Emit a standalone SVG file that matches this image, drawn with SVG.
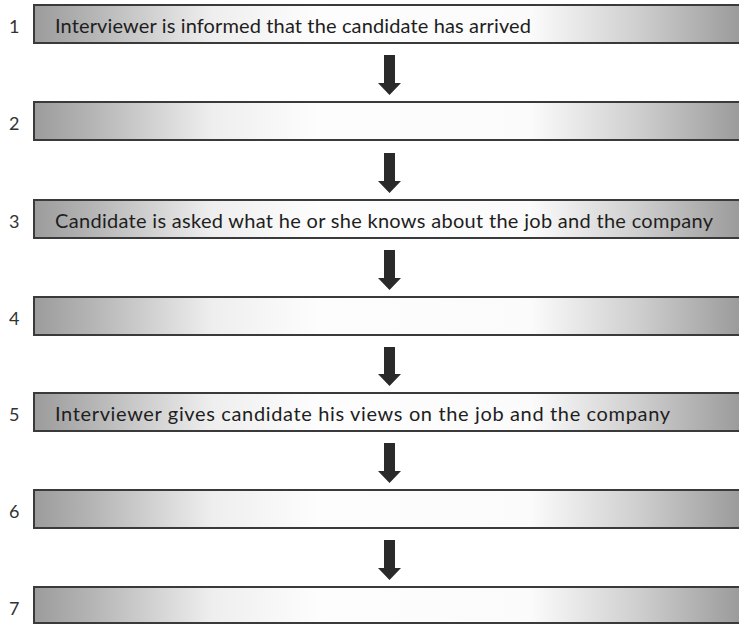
<svg xmlns="http://www.w3.org/2000/svg" width="739" height="625" viewBox="0 0 739 625">
<style>
.box{fill:url(#g);stroke:#3a3a3a;stroke-width:2}
.num{font-family:Lato,"Liberation Sans",Arial,sans-serif;font-size:18px;fill:#333}
.lbl{font-family:Lato,"Liberation Sans",Arial,sans-serif;font-size:20px;fill:#1e1e1e}
.arr{fill:#2a2a2a}
</style>
<defs>
<linearGradient id="g" x1="0" y1="0" x2="1" y2="0">
<stop offset="0" stop-color="#9c9c9c"/>
<stop offset="0.08" stop-color="#b4b4b4"/>
<stop offset="0.25" stop-color="#eeeeee"/>
<stop offset="0.4" stop-color="#fdfdfd"/>
<stop offset="0.7" stop-color="#fbfbfb"/>
<stop offset="0.85" stop-color="#cfcfcf"/>
<stop offset="1" stop-color="#999999"/>
</linearGradient>
</defs>
<rect width="739" height="625" fill="#ffffff"/>
<g id="node1"><rect class="box" x="34" y="5" width="710" height="38"/><text class="num" x="9" y="33">1</text><text class="lbl" x="55" y="32.5" textLength="476" lengthAdjust="spacing">Interviewer is informed that the candidate has arrived</text></g>
<g id="node2"><rect class="box" x="34" y="102" width="710" height="38"/><text class="num" x="9" y="130">2</text></g>
<g id="node3"><rect class="box" x="34" y="200" width="710" height="38"/><text class="num" x="9" y="228">3</text><text class="lbl" x="55" y="227.5" textLength="658" lengthAdjust="spacing">Candidate is asked what he or she knows about the job and the company</text></g>
<g id="node4"><rect class="box" x="34" y="297" width="710" height="38"/><text class="num" x="9" y="325">4</text></g>
<g id="node5"><rect class="box" x="34" y="393" width="710" height="38"/><text class="num" x="9" y="421">5</text><text class="lbl" x="55" y="420.5" textLength="615" lengthAdjust="spacing">Interviewer gives candidate his views on the job and the company</text></g>
<g id="node6"><rect class="box" x="34" y="490" width="710" height="38"/><text class="num" x="9" y="518">6</text></g>
<g id="node7"><rect class="box" x="34" y="587" width="710" height="36"/><text class="num" x="9" y="615">7</text></g>
<g id="connectors">
<path class="arr" d="M384,55 H395 V83 H401 L389.5,95 L378,83 H384 Z"/>
<path class="arr" d="M384,153 H395 V181 H401 L389.5,193 L378,181 H384 Z"/>
<path class="arr" d="M384,250 H395 V278 H401 L389.5,290 L378,278 H384 Z"/>
<path class="arr" d="M384,347 H395 V374 H401 L389.5,386 L378,374 H384 Z"/>
<path class="arr" d="M384,443 H395 V471 H401 L389.5,483 L378,471 H384 Z"/>
<path class="arr" d="M384,540 H395 V568 H401 L389.5,580 L378,568 H384 Z"/>
</g>
</svg>
